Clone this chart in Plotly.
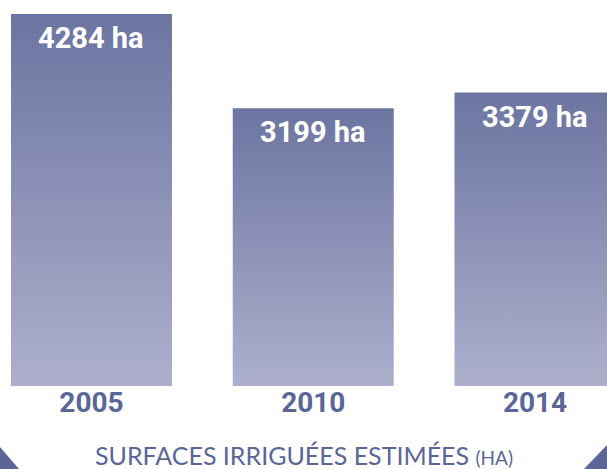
import plotly.graph_objects as go

# Estimated irrigated area per year (hectares)
years = ["2005", "2010", "2014"]
surfaces_ha = [4284, 3199, 3379]

BAR_TOP = "#6c75a1"
BAR_BOTTOM = "#adafcc"
TEXT_BLUE = "#5a6698"
HALF_W = 0.363

fig = go.Figure()

# Each bar is a filled polygon so it can carry a vertical gradient
for i, (yr, v) in enumerate(zip(years, surfaces_ha)):
    fig.add_trace(go.Scatter(
        x=[i - HALF_W, i + HALF_W, i + HALF_W, i - HALF_W, i - HALF_W],
        y=[0, 0, v, v, 0],
        mode="lines",
        fill="toself",
        line=dict(width=0, color=BAR_TOP),
        fillgradient=dict(type="vertical",
                          colorscale=[[0, BAR_BOTTOM], [1, BAR_TOP]]),
        hoverinfo="skip",
        showlegend=False,
    ))
    fig.add_annotation(
        x=i, y=v, xref="x", yref="y",
        text=f"{v} ha",
        showarrow=False,
        yanchor="middle", yshift=-24,
        font=dict(family="Roboto", size=29, color="white", weight="bold"),
    )

# Caption under the chart
fig.add_annotation(
    x=0.5, y=-0.178, xref="paper", yref="paper",
    text="SURFACES IRRIGUÉES ESTIMÉES <span style='font-size:19px'>(HA)</span>",
    showarrow=False, xanchor="center", yanchor="middle",
    font=dict(family="Lato", size=25, color=TEXT_BLUE),
)

# Corner triangles
fig.add_shape(type="path", xref="paper", yref="paper",
              path="M 0 -0.158 L 0.0313 -0.215 L 0 -0.215 Z",
              fillcolor=TEXT_BLUE, line=dict(width=0))
fig.add_shape(type="path", xref="paper", yref="paper",
              path="M 1 -0.153 L 0.962 -0.215 L 1 -0.215 Z",
              fillcolor=TEXT_BLUE, line=dict(width=0))

fig.update_layout(
    width=607, height=469,
    margin=dict(l=0, r=0, t=0, b=83),
    paper_bgcolor="white", plot_bgcolor="white",
    xaxis=dict(
        range=[-0.4126, 2.3247],
        tickmode="array", tickvals=list(range(len(years))), ticktext=years,
        tickfont=dict(family="Roboto", size=28, color=TEXT_BLUE, weight="bold"),
        ticklabelstandoff=-3,
        showgrid=False, zeroline=False, showline=False, ticks="",
        fixedrange=True,
    ),
    yaxis=dict(
        range=[0, 4445], visible=False, showgrid=False, zeroline=False,
        fixedrange=True,
    ),
)

fig.write_html("out.html")
